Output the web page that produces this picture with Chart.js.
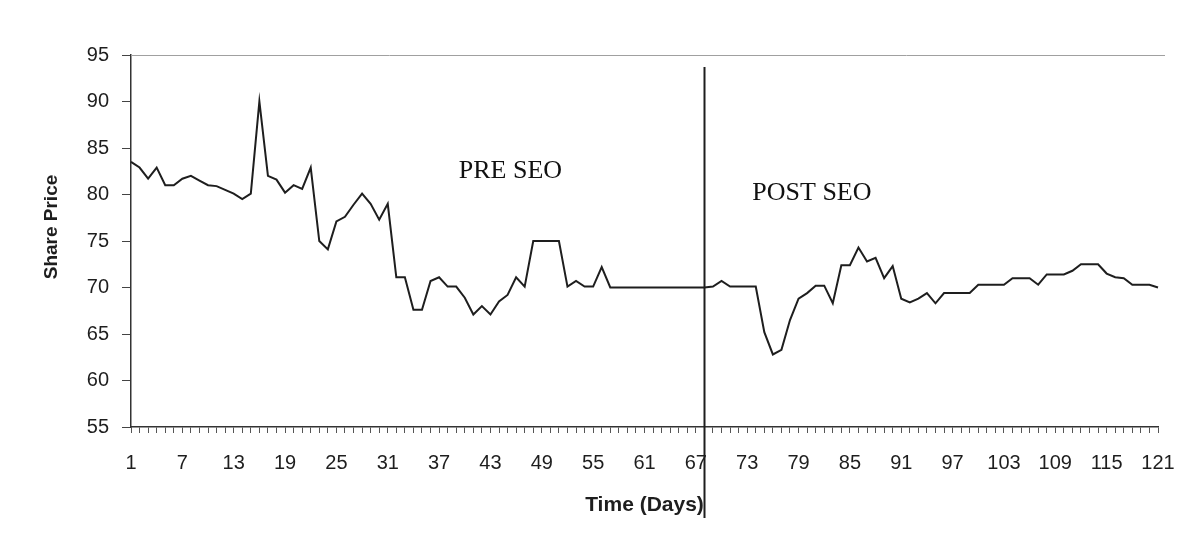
<!DOCTYPE html>
<html>
<head>
<meta charset="utf-8">
<title>Share Price around SEO</title>
<script src="https://cdn.jsdelivr.net/npm/chart.js@4"></script>
<style>
  html, body { margin: 0; padding: 0; background: #fff; }
  #wrap { width: 1177px; height: 545px; }
</style>
</head>
<body>
<div id="wrap"><canvas id="price" width="1177" height="545"></canvas></div>
<script>
(function () {
  // ---- data ----
  const days = Array.from({ length: 121 }, (_, i) => i + 1);
  const dayLabels = ['1', '7', '13', '19', '25', '31', '37', '43', '49', '55', '61', '67',
                     '73', '79', '85', '91', '97', '103', '109', '115', '121'];

  const sharePrice = [
    83.5, 82.9, 81.7, 82.9, 81.0, 81.0, 81.7, 82.0, 81.5, 81.0,
    80.9, 80.5, 80.1, 79.5, 80.1, 90.0, 82.0, 81.6, 80.2, 81.0,
    80.6, 82.9, 75.0, 74.1, 77.1, 77.6, 78.9, 80.1, 79.0, 77.3,
    79.0, 71.1, 71.1, 67.6, 67.6, 70.7, 71.1, 70.1, 70.1, 68.9,
    67.1, 68.0, 67.1, 68.5, 69.2, 71.1, 70.1, 75.0, 75.0, 75.0,
    75.0, 70.1, 70.7, 70.1, 70.1, 72.2, 70.0, 70.0, 70.0, 70.0,
    70.0, 70.0, 70.0, 70.0, 70.0, 70.0, 70.0, 70.0, 70.1, 70.7,
    70.1, 70.1, 70.1, 70.1, 65.2, 62.8, 63.3, 66.5, 68.8, 69.4,
    70.2, 70.2, 68.3, 72.4, 72.4, 74.3, 72.8, 73.2, 71.0, 72.3,
    68.8, 68.4, 68.8, 69.4, 68.3, 69.4, 69.4, 69.4, 69.4, 70.3,
    70.3, 70.3, 70.3, 71.0, 71.0, 71.0, 70.3, 71.4, 71.4, 71.4,
    71.8, 72.5, 72.5, 72.5, 71.5, 71.1, 71.0, 70.3, 70.3, 70.3,
    70.0
  ];

  const seoDay = 67.9;                 // divider between the two periods
  const periodNotes = [
    { text: 'PRE SEO',  day: 39.3, value: 81.8 },
    { text: 'POST SEO', day: 73.6, value: 79.4 }
  ];

  const sans = '"Liberation Sans", Arial, sans-serif';
  const serif = '"Liberation Serif", "Times New Roman", serif';
  const ink = '#1e1e1e';

  // ---- overlays: frame top, divider, period notes, y title ----
  const seoOverlay = {
    id: 'seoOverlay',
    afterDraw(chart) {
      const { ctx, chartArea: a, scales: { x, y } } = chart;
      ctx.save();

      ctx.strokeStyle = '#a0a0a0';
      ctx.lineWidth = 1;
      ctx.beginPath();
      ctx.moveTo(a.left, a.top + 0.5);
      ctx.lineTo(a.right + 7, a.top + 0.5);
      ctx.stroke();

      const sx = Math.round(x.getPixelForValue(seoDay - 1)) + 0.5;
      ctx.strokeStyle = ink;
      ctx.lineWidth = 2;
      ctx.beginPath();
      ctx.moveTo(sx, y.getPixelForValue(93.7));
      ctx.lineTo(sx, a.bottom + 91);
      ctx.stroke();

      ctx.fillStyle = '#111';
      ctx.font = '26px ' + serif;
      ctx.textAlign = 'left';
      ctx.textBaseline = 'alphabetic';
      periodNotes.forEach(n => {
        ctx.fillText(n.text, x.getPixelForValue(n.day - 1), y.getPixelForValue(n.value));
      });

      ctx.translate(52, (a.top + a.bottom) / 2 - 14);
      ctx.rotate(-Math.PI / 2);
      ctx.font = 'bold 19px ' + sans;
      ctx.fillStyle = ink;
      ctx.textAlign = 'center';
      ctx.textBaseline = 'middle';
      ctx.fillText('Share Price', 0, 0);

      ctx.restore();
    }
  };

  // ---- chart ----
  new Chart(document.getElementById('price'), {
    type: 'line',
    data: {
      labels: days,
      datasets: [{
        label: 'Share Price',
        data: sharePrice,
        borderColor: ink,
        borderWidth: 2,
        pointRadius: 0,
        tension: 0,
        fill: false
      }]
    },
    options: {
      responsive: false,
      animation: false,
      layout: { padding: { top: 55, right: 19, left: 0, bottom: 0 } },
      plugins: { legend: { display: false }, tooltip: { enabled: false } },
      scales: {
        x: {
          type: 'category',
          offset: false,
          // fixed axis box; end labels may run into the margins
          afterFit: s => { s.height = 118; s.paddingLeft = 0; s.paddingRight = 0; },
          grid: { drawOnChartArea: false, drawTicks: true, tickLength: 6, color: '#555', lineWidth: 1 },
          border: { display: true, color: '#333', width: 1.5 },
          ticks: {
            autoSkip: false,
            maxRotation: 0,
            padding: 18,
            color: ink,
            font: { family: sans, size: 20 },
            callback: (v, i) => dayLabels.includes(String(days[i])) ? String(days[i]) : ''
          },
          title: {
            display: true,
            text: 'Time (Days)',
            color: ink,
            font: { family: sans, size: 21, weight: 'bold' },
            padding: { top: 0, bottom: 27 }
          }
        },
        y: {
          min: 55,
          max: 95,
          afterFit: s => { s.width = 131; s.paddingTop = 0; s.paddingBottom = 0; },
          grid: { drawOnChartArea: false, drawTicks: true, tickLength: 9, color: '#444' },
          border: { display: true, color: '#333', width: 1.5 },
          ticks: {
            stepSize: 5,
            padding: 13,
            color: ink,
            font: { family: sans, size: 20 }
          }
        }
      }
    },
    plugins: [seoOverlay]
  });
})();
</script>
</body>
</html>
